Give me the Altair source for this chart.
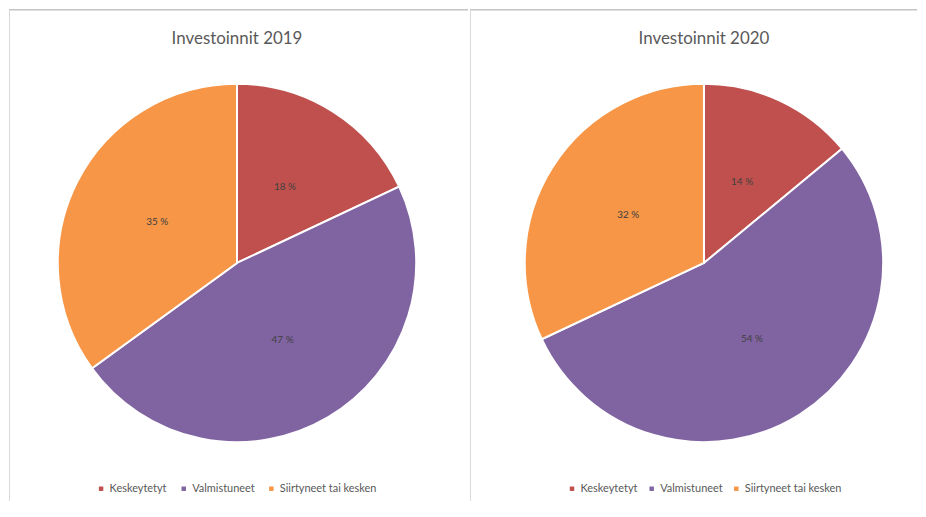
import altair as alt
import pandas as pd

categories = ["Keskeytetyt", "Valmistuneet", "Siirtyneet tai kesken"]
colors = ["#C0504D", "#8064A2", "#F79646"]
values_2019 = [18, 47, 35]
values_2020 = [14, 54, 32]
titles = ["Investoinnit 2019", "Investoinnit 2020"]

FONT = "Lato"
H = 494


def make_df(vals):
    return pd.DataFrame({
        "cat": categories,
        "value": vals,
        "idx": list(range(len(categories))),
        "label": [f"{v} %" for v in vals],
    })


def panel(vals, title, width, cx, legend_x, col_pad):
    df = make_df(vals)
    color = alt.Color(
        "cat:N",
        scale=alt.Scale(domain=categories, range=colors),
        sort=categories,
        legend=alt.Legend(
            orient="none", legendX=legend_x, legendY=476, direction="horizontal",
            title=None, symbolType="square", symbolSize=20, symbolStrokeWidth=0,
            labelFont=FONT, labelFontSize=11, labelColor="#595959",
            labelOffset=3, columnPadding=col_pad,
        ),
    )
    base = alt.Chart(df).encode(
        theta=alt.Theta("value:Q", stack=True),
        order=alt.Order("idx:Q"),
        x=alt.value(cx), y=alt.value(255),
    )
    arcs = base.mark_arc(outerRadius=180, stroke="white", strokeWidth=2).encode(color=color)
    texts = base.mark_text(radius=90, font=FONT, fontSize=10, color="#404040").encode(text="label:N")
    tdf = pd.DataFrame({"t": [title]})
    ttl = alt.Chart(tdf).mark_text(font=FONT, fontSize=17, color="#595959").encode(
        text="t:N", x=alt.value(cx), y=alt.value(30))
    one = pd.DataFrame({"a": [0]})
    top = alt.Chart(one).mark_rule(color="#c4c4c4", strokeWidth=1.5).encode(
        x=alt.value(0), x2=alt.value(width), y=alt.value(0.75))
    side = alt.Chart(one).mark_rule(color="#d9d9d9").encode(
        x=alt.value(0.5), y=alt.value(1), y2=alt.value(H))
    return alt.layer(top, side, arcs, texts, ttl).properties(width=width, height=H)


p1 = panel(values_2019, titles[0], 461, 229, 87, 11)
p2 = panel(values_2020, titles[1], 449, 235, 97, 8)

chart = alt.hconcat(p1, p2, spacing=0).resolve_scale(color="independent", theta="independent").properties(
    padding=0
).configure_view(stroke=None)

chart.save("out.html", embed_options={"renderer": "svg", "actions": False})
